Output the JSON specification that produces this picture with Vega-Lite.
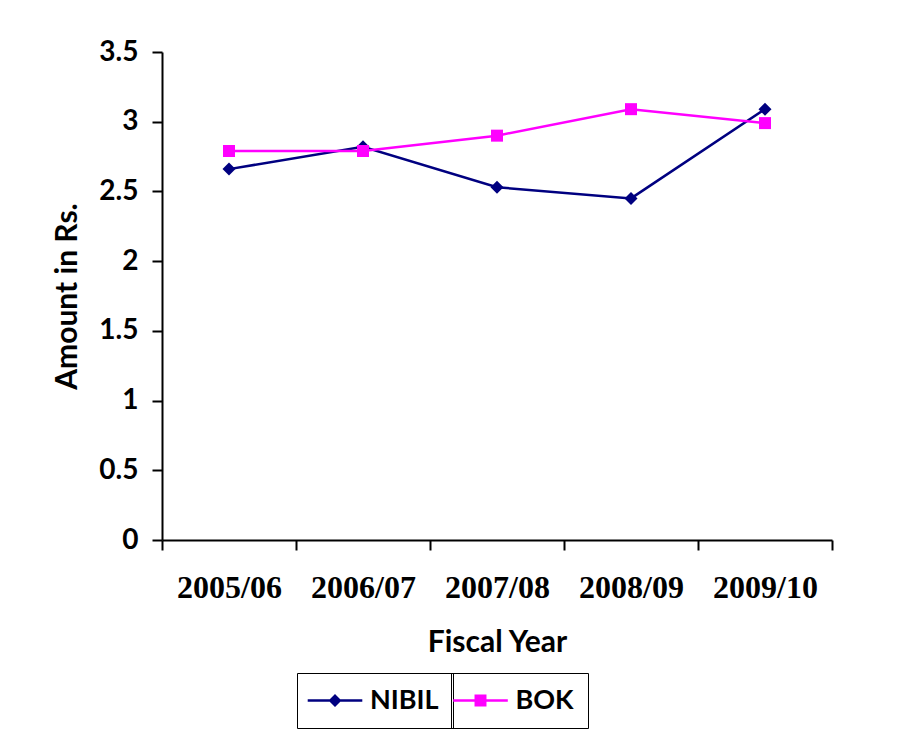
{
  "$schema": "https://vega.github.io/schema/vega-lite/v6.json",
  "autosize": {"type": "none"},
  "padding": {"left": 162, "top": 52, "right": 78, "bottom": 194},
  "width": 670,
  "height": 488,
  "background": "white",
  "config": {"view": {"stroke": null}},
  "data": {
    "values": [
      {"year": "2005/06", "series": "NIBIL", "amount": 2.66},
      {"year": "2006/07", "series": "NIBIL", "amount": 2.82},
      {"year": "2007/08", "series": "NIBIL", "amount": 2.53},
      {"year": "2008/09", "series": "NIBIL", "amount": 2.45},
      {"year": "2009/10", "series": "NIBIL", "amount": 3.09},
      {"year": "2005/06", "series": "BOK", "amount": 2.79},
      {"year": "2006/07", "series": "BOK", "amount": 2.79},
      {"year": "2007/08", "series": "BOK", "amount": 2.9},
      {"year": "2008/09", "series": "BOK", "amount": 3.09},
      {"year": "2009/10", "series": "BOK", "amount": 2.99}
    ]
  },
  "encoding": {
    "x": {
      "field": "year",
      "type": "nominal",
      "sort": null,
      "scale": {"type": "band", "paddingInner": 0, "paddingOuter": 0},
      "axis": {
        "title": "Fiscal Year",
        "titleFont": "Lato",
        "titleFontSize": 30,
        "titleFontWeight": "bold",
        "titleColor": "black",
        "titlePadding": 24,
        "labelFont": "Liberation Serif",
        "labelFontSize": 32,
        "labelFontWeight": "bold",
        "labelColor": "black",
        "labelAngle": 0,
        "labelPadding": 22,
        "tickBand": "extent",
        "tickSize": 10,
        "tickWidth": 2,
        "tickColor": "black",
        "domainColor": "black",
        "domainWidth": 2,
        "grid": false
      }
    },
    "y": {
      "field": "amount",
      "type": "quantitative",
      "scale": {"domain": [0, 3.5], "nice": false, "zero": true},
      "axis": {
        "title": "Amount in Rs.",
        "titleFont": "Lato",
        "titleFontSize": 30,
        "titleFontWeight": "bold",
        "titleColor": "black",
        "titlePadding": 16,
        "values": [0, 0.5, 1, 1.5, 2, 2.5, 3, 3.5],
        "format": "~g",
        "labelFont": "Lato",
        "labelFontSize": 28,
        "labelFontWeight": "bold",
        "labelColor": "black",
        "labelPadding": 14,
        "tickSize": 10,
        "tickWidth": 2,
        "tickColor": "black",
        "domainColor": "black",
        "domainWidth": 2,
        "grid": false
      }
    }
  },
  "layer": [
    {
      "mark": {"type": "line", "strokeWidth": 2.5},
      "encoding": {
        "stroke": {
          "field": "series",
          "type": "nominal",
          "scale": {"domain": ["NIBIL", "BOK"], "range": ["#000080", "#ff00ff"]},
          "legend": null
        }
      }
    },
    {
      "mark": {"type": "point", "filled": true, "opacity": 1, "strokeWidth": 0},
      "encoding": {
        "fill": {
          "field": "series",
          "type": "nominal",
          "scale": {"domain": ["NIBIL", "BOK"], "range": ["#000080", "#ff00ff"]},
          "legend": null
        },
        "shape": {
          "field": "series",
          "type": "nominal",
          "scale": {"domain": ["NIBIL", "BOK"], "range": ["diamond", "square"]},
          "legend": null
        },
        "size": {
          "field": "series",
          "type": "nominal",
          "scale": {"domain": ["NIBIL", "BOK"], "range": [169, 144]},
          "legend": null
        }
      }
    },
    {
      "transform": [{"filter": "false"}],
      "mark": {"type": "point", "filled": true, "opacity": 1, "strokeWidth": 0, "color": "#000080"},
      "encoding": {
        "shape": {
          "field": "series",
          "type": "nominal",
          "scale": {
            "domain": ["NIBIL"],
            "range": ["M-4.2,-0.19H4.2V0.19H-4.2Z M0,-1L1,0L0,1L-1,0Z"]
          },
          "legend": {
            "title": null,
            "orient": "none",
            "legendX": 135,
            "legendY": 621,
            "direction": "horizontal",
            "padding": 14,
            "strokeColor": "black",
            "labelFont": "Lato",
            "labelFontSize": 27,
            "labelFontWeight": "bold",
            "labelColor": "black",
            "symbolSize": 169,
            "symbolOffset": 10.5,
            "labelOffset": 21.5,
            "symbolStrokeWidth": 0,
            "symbolOpacity": 1
          }
        }
      }
    },
    {
      "transform": [{"filter": "false"}],
      "mark": {"type": "point", "filled": true, "opacity": 1, "strokeWidth": 0, "color": "#ff00ff"},
      "encoding": {
        "shape": {
          "field": "series",
          "type": "nominal",
          "scale": {
            "domain": ["BOK"],
            "range": ["M-4.2,-0.19H4.2V0.19H-4.2Z M-0.92,-0.92H0.92V0.92H-0.92Z"]
          },
          "legend": {
            "title": null,
            "orient": "none",
            "legendX": 289,
            "legendY": 621,
            "direction": "horizontal",
            "padding": 14,
            "strokeColor": "black",
            "labelFont": "Lato",
            "labelFontSize": 27,
            "labelFontWeight": "bold",
            "labelColor": "black",
            "symbolSize": 169,
            "symbolOffset": 2,
            "labelOffset": 21.5,
            "symbolStrokeWidth": 0,
            "symbolOpacity": 1
          }
        }
      }
    }
  ],
  "resolve": {"scale": {"shape": "independent"}}
}
